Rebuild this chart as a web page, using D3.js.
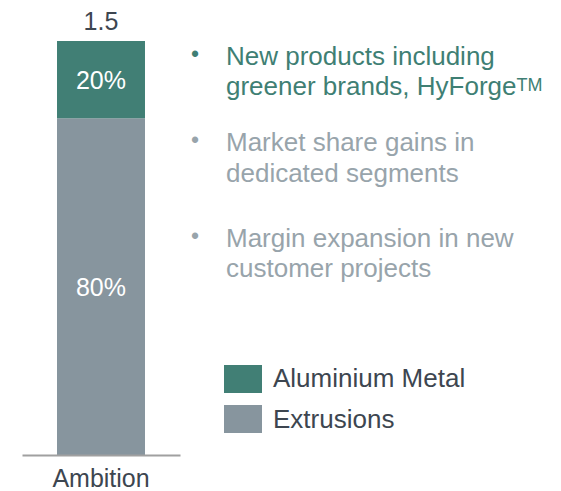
<!DOCTYPE html>
<html><head><meta charset="utf-8">
<script src="https://cdn.jsdelivr.net/npm/d3@7"></script>
<style>body{margin:0;background:#fff;}svg{display:block;font-family:"Liberation Sans",Arial,sans-serif;}</style>
</head><body><svg id="c" width="561" height="491"></svg>
<script>
const categories = ["Ambition"];
const seriesNames = ["Extrusions", "Aluminium Metal"];
const extrusions = [1.22];
const aluminiumMetal = [0.28];
const shareLabels = { "Extrusions": ["80%"], "Aluminium Metal": ["20%"] };
const totalLabels = ["1.5"];
const colors = { "Extrusions": "#87959e", "Aluminium Metal": "#417f75" };
const bullets = [
  { lines: ["New products including", "greener brands, HyForge"], sup: "TM", color: "#3f7f74" },
  { lines: ["Market share gains in", "dedicated segments"], color: "#98a4ab" },
  { lines: ["Margin expansion in new", "customer projects"], color: "#98a4ab" }
];

const svg = d3.select("#c");
const rows = categories.map((c, i) => ({ cat: c, "Extrusions": extrusions[i], "Aluminium Metal": aluminiumMetal[i] }));
const stacked = d3.stack().keys(seriesNames)(rows);

const x = d3.scaleBand().domain(categories).range([22, 180]).paddingInner(0).paddingOuter(0.398);
const y = d3.scaleLinear().domain([0, 1.5]).range([455, 41]);

stacked.forEach(s => {
  svg.selectAll(null).data(s).enter().append("rect")
    .attr("x", d => x(d.data.cat)).attr("width", x.bandwidth())
    .attr("y", d => y(d[1])).attr("height", d => y(d[0]) - y(d[1]))
    .attr("fill", colors[s.key]);
  svg.selectAll(null).data(s).enter().append("text")
    .attr("x", d => x(d.data.cat) + x.bandwidth() / 2)
    .attr("y", d => (y(d[0]) + y(d[1])) / 2 + 9)
    .attr("text-anchor", "middle").attr("fill", "#fff").attr("font-size", 25)
    .text((d, i) => shareLabels[s.key][i]);
});

// totals
const topSeries = stacked[stacked.length - 1];
svg.selectAll(null).data(topSeries).enter().append("text")
  .attr("x", d => x(d.data.cat) + x.bandwidth() / 2)
  .attr("y", d => y(d[1]) - 11)
  .attr("text-anchor", "middle").attr("fill", "#3d4650").attr("font-size", 25)
  .text((d, i) => totalLabels[i]);

// axis
const ax = svg.append("g").attr("transform", "translate(0,455)")
  .call(d3.axisBottom(x).tickSize(0).tickPadding(0));
ax.select(".domain").attr("stroke", "#a0a0a0").attr("stroke-width", 2);
ax.selectAll(".tick text").attr("font-size", 25).attr("fill", "#3d4650")
  .attr("font-family", "Liberation Sans, Arial, sans-serif").attr("dy", 0).attr("y", 32);

// bullets
const baselines = [[65, 95], [151, 182], [247, 277]];
bullets.forEach((b, i) => {
  const g = svg.append("g");
  g.append("text").attr("x", 195).attr("y", baselines[i][0] - 3).attr("fill", b.color)
    .attr("text-anchor", "middle").attr("font-size", 23).text("•");
  b.lines.forEach((ln, j) => {
    const t = g.append("text").attr("x", 226).attr("y", baselines[i][j])
      .attr("fill", b.color).attr("font-size", 26).text(ln);
    if (j === b.lines.length - 1 && b.sup) {
      t.append("tspan").attr("font-size", 18).attr("dy", -4).text(b.sup);
    }
  });
});

// legend
const legendItems = ["Aluminium Metal", "Extrusions"];
const lg = svg.append("g");
legendItems.forEach((k, i) => {
  lg.append("rect").attr("x", 224).attr("y", 365 + i * 40).attr("width", 38).attr("height", 28).attr("fill", colors[k]);
  lg.append("text").attr("x", 273).attr("y", 387 + i * 41).attr("fill", "#3d4650").attr("font-size", 26).text(k);
});
</script></body></html>
